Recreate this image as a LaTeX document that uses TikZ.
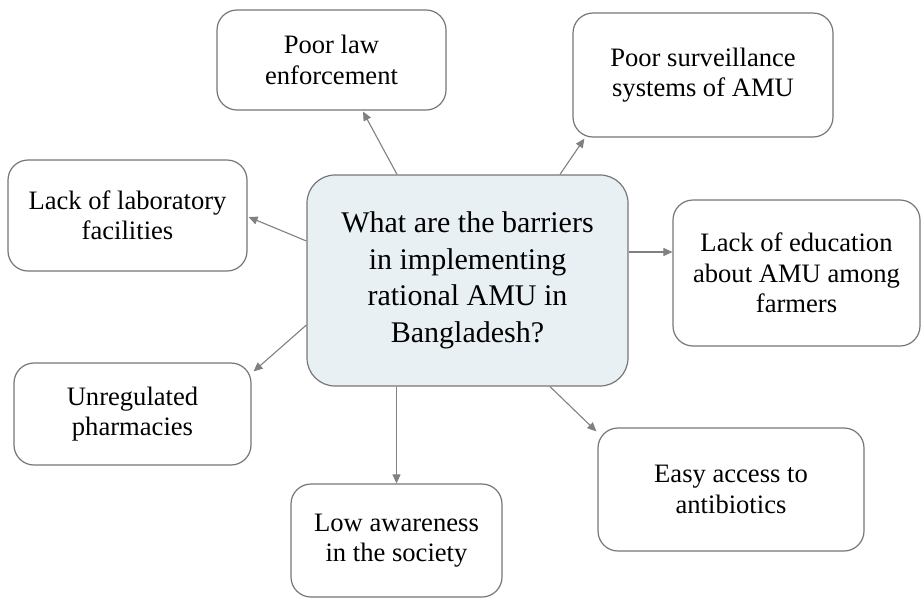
\documentclass[tikz,border=0pt]{standalone}
\usepackage{fontspec}
\setmainfont{Liberation Serif}
\usetikzlibrary{arrows.meta}
\definecolor{boxline}{RGB}{118,118,118}
\definecolor{arrline}{RGB}{128,128,128}
\definecolor{qfill}{RGB}{233,240,243}
\tikzset{
  item/.style={draw=boxline, line width=1.2pt, rounded corners=20pt, fill=white,
    inner sep=0pt, align=center, font=\fontsize{26.6}{30.5}\selectfont},
  qbox/.style={draw=boxline, line width=1.2pt, rounded corners=28pt, fill=qfill,
    inner sep=0pt, align=center, font=\fontsize{30}{36.5}\selectfont},
  arr/.style={draw=arrline, line width=1.1pt, -{Triangle[length=9pt,width=8pt]}}
}
\begin{document}
\begin{tikzpicture}[x=1pt,y=-1pt]
\useasboundingbox (0,0) rectangle (921,598);
\node[qbox, minimum width=321pt, minimum height=211pt] (q) at (467.5,280.5)
  {What are the barriers\\in implementing\\rational AMU in\\Bangladesh?};
\node[item, minimum width=229pt, minimum height=100pt] (law) at (331.5,60)
  {Poor law\\enforcement};
\node[item, minimum width=260pt, minimum height=124pt] (surv) at (703,75)
  {Poor surveillance\\systems of AMU};
\node[item, minimum width=239pt, minimum height=111pt] (lab) at (127.5,215.5)
  {Lack of laboratory\\facilities};
\node[item, minimum width=247pt, minimum height=146pt] (edu) at (796.5,273)
  {Lack of education\\about AMU among\\farmers};
\node[item, minimum width=237pt, minimum height=102pt] (unreg) at (132.5,414)
  {Unregulated\\pharmacies};
\node[item, minimum width=211pt, minimum height=113pt] (low) at (396.5,540.5)
  {Low awareness\\in the society};
\node[item, minimum width=266pt, minimum height=123pt] (easy) at (731,489.5)
  {Easy access to\\antibiotics};
\draw[arr] ([xshift=-70.5pt]q.north) -- ([xshift=31.5pt,yshift=-1pt]law.south);
\draw[arr] ([xshift=92.5pt]q.north) -- ([xshift=12pt,yshift=-1pt]surv.south west);
\draw[arr] ([yshift=39.5pt]q.west) -- ([xshift=1pt,yshift=-1.5pt]lab.east);
\draw[arr] ([yshift=28.5pt]q.east) -- ([yshift=21pt]edu.west);
\draw[arr] ([yshift=-44.5pt]q.west) -- ([xshift=2pt,yshift=-9pt]unreg.north east);
\draw[arr] (low.north |- q.south) -- (low.north);
\draw[arr] ([xshift=82.5pt]q.south) -- ([xshift=-1pt,yshift=-4pt]easy.north west);
\end{tikzpicture}
\end{document}
